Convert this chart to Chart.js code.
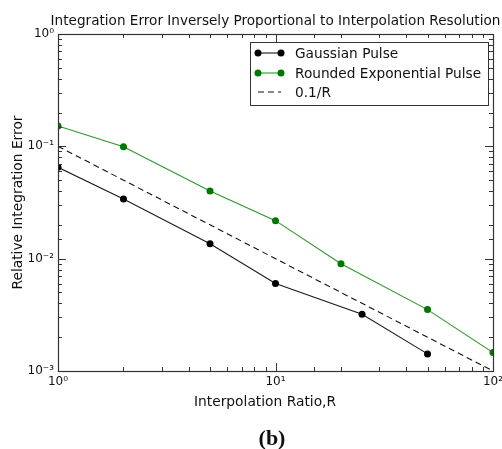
<!DOCTYPE html>
<html>
<head>
<meta charset="utf-8">
<script src="https://cdn.jsdelivr.net/npm/chart.js@4.4.3/dist/chart.umd.min.js"></script>
<style>
  html, body { margin: 0; padding: 0; background: #fff; }
  #wrap { width: 502px; height: 449px; }
</style>
</head>
<body>
<div id="wrap"><canvas id="chart" width="502" height="449"></canvas></div>
<script>
/* Integration error vs interpolation ratio (log-log) */

// Gaussian pulse
const gaussRatio = [1, 2, 5, 10, 25, 50];
const gaussError = [0.065, 0.034, 0.0136, 0.006, 0.0032, 0.00142];

// Rounded exponential pulse
const expoRatio = [1, 2, 5, 10, 20, 50, 100];
const expoError = [0.152, 0.099, 0.040, 0.0218, 0.0090, 0.00352, 0.00146];

// reference 0.1/R
const refRatio = [1, 100];
const refError = [0.1, 0.001];

const seriesLabels = ['Gaussian Pulse', 'Rounded Exponential Pulse', '0.1/R'];
const chartTitle = 'Integration Error Inversely Proportional to Interpolation Resolution';
const xTitle = 'Interpolation Ratio,R';
const yTitle = 'Relative Integration Error';
const panelTag = '(b)';

const SUP = { '0':'⁰','1':'¹','2':'²','3':'³','-':'⁻' };
const FONT = "'DejaVu Sans', sans-serif";
const FRAME = '#333';

function toPoints(xs, ys) {
  return xs.map((x, i) => ({ x, y: ys[i] }));
}

function isDecade(v) {
  const l = Math.log10(v);
  return Math.abs(l - Math.round(l)) < 1e-9;
}

function decadeLabel(v) {
  if (!isDecade(v)) return '';
  const e = String(Math.round(Math.log10(v)));
  return '10' + e.split('').map(c => SUP[c]).join('');
}

const decor = {
  id: 'decor',
  afterDraw(chart) {
    const { ctx, chartArea: a, scales } = chart;
    ctx.save();

    // ticks inside the frame, all four sides
    ctx.strokeStyle = FRAME;
    ctx.lineWidth = 1;
    ctx.beginPath();
    scales.x.ticks.forEach(t => {
      const px = Math.round(scales.x.getPixelForValue(t.value)) + 0.5;
      const len = isDecade(t.value) ? 8 : 4;
      ctx.moveTo(px, a.bottom); ctx.lineTo(px, a.bottom - len);
      ctx.moveTo(px, a.top);    ctx.lineTo(px, a.top + len);
    });
    scales.y.ticks.forEach(t => {
      const py = Math.round(scales.y.getPixelForValue(t.value)) + 0.5;
      const len = isDecade(t.value) ? 8 : 4;
      ctx.moveTo(a.left, py);  ctx.lineTo(a.left + len, py);
      ctx.moveTo(a.right, py); ctx.lineTo(a.right - len, py);
    });
    ctx.stroke();

    ctx.lineWidth = 1.2;
    ctx.strokeRect(a.left + 0.5, a.top + 0.5, a.right - a.left, a.bottom - a.top);

    // texts
    ctx.fillStyle = '#111';
    ctx.textAlign = 'center';
    ctx.textBaseline = 'middle';
    ctx.font = '13.6px ' + FONT;
    ctx.fillText(chartTitle, (a.left + a.right) / 2, 21);
    ctx.font = '13.8px ' + FONT;
    ctx.fillText(xTitle, 265, 402);
    ctx.save();
    ctx.translate(18, (a.top + a.bottom) / 2);
    ctx.rotate(-Math.PI / 2);
    ctx.fillText(yTitle, 0, 0);
    ctx.restore();
    ctx.font = "bold 22px 'Liberation Serif', serif";
    ctx.fillText(panelTag, 272, 439);

    // legend box
    const lx = 250, ly = 42, lw = 238, lh = 63;
    ctx.fillStyle = '#fff';
    ctx.fillRect(lx, ly, lw, lh);
    ctx.strokeStyle = FRAME;
    ctx.lineWidth = 1;
    ctx.strokeRect(lx + 0.5, ly + 0.5, lw, lh);
    const rows = [53, 73, 92];
    chart.data.datasets.forEach((ds, i) => {
      const y = rows[i];
      ctx.strokeStyle = ds.borderColor;
      ctx.lineWidth = ds.borderWidth;
      ctx.setLineDash(ds.borderDash || []);
      ctx.beginPath();
      ctx.moveTo(258, y); ctx.lineTo(281, y);
      ctx.stroke();
      ctx.setLineDash([]);
      if (ds.pointRadius > 0) {
        ctx.fillStyle = ds.pointBackgroundColor;
        [258, 281].forEach(px => {
          ctx.beginPath();
          ctx.arc(px, y, ds.pointRadius, 0, Math.PI * 2);
          ctx.fill();
        });
      }
      ctx.fillStyle = '#111';
      ctx.textAlign = 'left';
      ctx.font = '13.7px ' + FONT;
      ctx.fillText(ds.label, 295, y + 1);
    });
    ctx.restore();
  }
};

new Chart(document.getElementById('chart'), {
  type: 'line',
  data: {
    datasets: [
      {
        label: seriesLabels[0],
        data: toPoints(gaussRatio, gaussError),
        borderColor: '#1a1a1a',
        borderWidth: 1.1,
        pointRadius: 3.5,
        pointBackgroundColor: '#000',
        pointBorderColor: '#000',
        pointBorderWidth: 0,
      },
      {
        label: seriesLabels[1],
        data: toPoints(expoRatio, expoError),
        borderColor: '#2a962a',
        borderWidth: 1.1,
        pointRadius: 3.5,
        pointBackgroundColor: '#007800',
        pointBorderColor: '#007800',
        pointBorderWidth: 0,
      },
      {
        label: seriesLabels[2],
        data: toPoints(refRatio, refError),
        borderColor: '#111',
        borderWidth: 1.1,
        borderDash: [6, 4],
        pointRadius: 0,
      },
    ]
  },
  options: {
    responsive: false,
    animation: false,
    events: [],
    layout: { padding: { top: 34, right: 9, bottom: 56, left: 0 } },
    plugins: { legend: { display: false }, tooltip: { enabled: false }, title: { display: false } },
    scales: {
      x: {
        type: 'logarithmic',
        min: 1, max: 100,
        grid: { display: false, drawTicks: false },
        border: { display: false },
        ticks: {
          autoSkip: false, maxRotation: 0, padding: 4,
          color: '#111', font: { family: FONT, size: 12 },
          callback: v => decadeLabel(v),
        },
        afterFit: s => { s.height = 22; s.paddingLeft = 0; s.paddingRight = 0; },
      },
      y: {
        type: 'logarithmic',
        min: 0.001, max: 1,
        grid: { display: false, drawTicks: false },
        border: { display: false },
        ticks: {
          autoSkip: false, padding: 4,
          color: '#111', font: { family: FONT, size: 12 },
          callback: v => decadeLabel(v),
        },
        afterFit: s => { s.width = 58; s.paddingTop = 0; s.paddingBottom = 0; },
      }
    }
  },
  plugins: [decor]
});
</script>
</body>
</html>
